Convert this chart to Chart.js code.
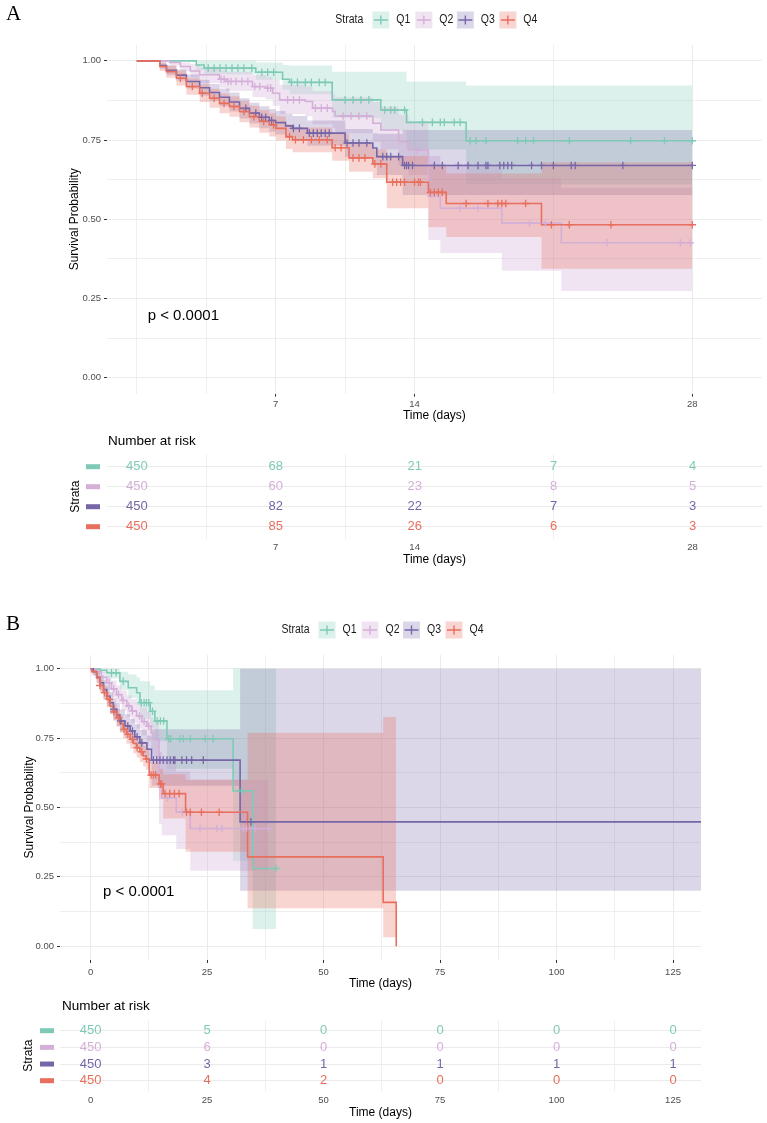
<!DOCTYPE html>
<html>
<head>
<meta charset="utf-8">
<title>Survival by quartile</title>
<script src="https://cdn.jsdelivr.net/npm/chart.js@4.4.1/dist/chart.umd.min.js"></script>
<style>
  html, body { margin: 0; padding: 0; background: #fff; }
  #page { position: relative; width: 767px; height: 1123px; overflow: hidden; background: #fff; }
  #page canvas { position: absolute; left: 0; }
  .tag { position: absolute; left: 6px; z-index: 2; font: 21px/1 "Liberation Serif", "DejaVu Serif", serif; color: #000; }
</style>
</head>
<body>
<div id="page">
  <canvas id="kmA" width="767" height="430" style="top:0"></canvas>
  <canvas id="riskA" width="767" height="140" style="top:430px"></canvas>
  <canvas id="kmB" width="767" height="390" style="top:610px"></canvas>
  <canvas id="riskB" width="767" height="128" style="top:995px"></canvas>
  <div class="tag" style="top:3px">A</div>
  <div class="tag" style="top:613px">B</div>
</div>
<script>
const groups = ['Q1', 'Q2', 'Q3', 'Q4'];
const colors = ['#7fcab6', '#d4afd8', '#7666a8', '#e86f5e'];
const bandAlpha = [0.27, 0.34, 0.26, 0.29];
const pvalText = 'p < 0.0001';

// panel A, first 28 days
const aTimesQ1 = [0, 3.0, 3.4, 6.0, 7.35, 7.7, 9.85, 12.3, 13.6, 16.6, 28];
const aSurvQ1 = [1, 0.987, 0.977, 0.964, 0.942, 0.932, 0.877, 0.845, 0.806, 0.748, 0.748];
const aUpperQ1 = [1, 1, 1, 0.995, 0.987, 0.985, 0.966, 0.966, 0.935, 0.922, 0.922];
const aLowerQ1 = [1, 0.97, 0.958, 0.94, 0.91, 0.895, 0.82, 0.78, 0.72, 0.61, 0.61];
const aCensorQ1 = [3.6, 3.9, 4.2, 4.5, 4.8, 5.1, 5.4, 5.8, 6.3, 6.6, 6.9, 7.8, 8.1, 8.5, 8.8, 9.2, 9.5, 10.5, 10.9, 11.3, 11.7, 12.5, 12.8, 13.0, 13.5, 14.4, 14.9, 15.3, 15.5, 16.0, 16.3, 16.8, 17.1, 17.6, 19.2, 19.6, 20.0, 21.8, 24.9, 26.6, 28];

const aTimesQ2 = [0, 1.66, 2.2, 2.7, 3.17, 4.17, 4.5, 5.83, 6.5, 6.85, 7.2, 8.5, 8.86, 9.87, 10.0, 11.9, 12.3, 13.2, 13.7, 14.7, 15.3, 18.4, 21.4, 28];
const aSurvQ2 = [1, 0.995, 0.982, 0.968, 0.956, 0.942, 0.935, 0.919, 0.914, 0.898, 0.877, 0.872, 0.851, 0.84, 0.826, 0.803, 0.782, 0.745, 0.719, 0.572, 0.535, 0.488, 0.426, 0.426];
const aUpperQ2 = [1, 1, 0.995, 0.99, 0.98, 0.97, 0.965, 0.955, 0.95, 0.94, 0.925, 0.92, 0.905, 0.895, 0.885, 0.87, 0.855, 0.83, 0.81, 0.7, 0.67, 0.63, 0.6, 0.6];
const aLowerQ2 = [1, 0.985, 0.968, 0.948, 0.93, 0.915, 0.905, 0.885, 0.878, 0.858, 0.832, 0.825, 0.8, 0.788, 0.772, 0.745, 0.72, 0.67, 0.64, 0.435, 0.394, 0.338, 0.274, 0.274];
const aCensorQ2 = [4.25, 4.4, 4.6, 4.75, 5.0, 5.3, 5.6, 5.95, 6.2, 6.6, 6.75, 7.6, 7.9, 8.2, 9.0, 9.3, 9.6, 10.4, 10.8, 11.2, 11.6, 14.1, 16.3, 17.2, 19.8, 20.6, 23.7, 27.4, 27.9];

const aTimesQ3 = [0, 1.16, 1.5, 2.0, 2.5, 3.17, 3.67, 4.17, 4.67, 5.18, 5.68, 6.18, 6.68, 7.0, 7.5, 7.85, 8.6, 10.5, 11.9, 12.1, 13.4, 28];
const aSurvQ3 = [1, 0.985, 0.97, 0.955, 0.935, 0.915, 0.9, 0.885, 0.87, 0.85, 0.835, 0.822, 0.812, 0.805, 0.795, 0.787, 0.772, 0.741, 0.725, 0.698, 0.67, 0.67];
const aUpperQ3 = [1, 0.995, 0.985, 0.973, 0.957, 0.94, 0.927, 0.913, 0.9, 0.882, 0.868, 0.857, 0.848, 0.842, 0.833, 0.826, 0.812, 0.785, 0.772, 0.77, 0.782, 0.782];
const aLowerQ3 = [1, 0.975, 0.955, 0.937, 0.913, 0.89, 0.873, 0.857, 0.84, 0.818, 0.802, 0.787, 0.776, 0.768, 0.757, 0.748, 0.732, 0.697, 0.678, 0.64, 0.577, 0.577];
const aCensorQ3 = [5.5, 6.0, 6.3, 6.5, 6.8, 7.9, 8.2, 8.7, 8.9, 9.1, 9.3, 9.5, 9.7, 10.6, 10.9, 11.2, 11.6, 12.4, 12.6, 12.8, 13.2, 13.5, 13.6, 13.7, 13.9, 15.0, 15.4, 16.2, 16.7, 17.2, 17.6, 17.7, 18.3, 18.5, 18.7, 18.9, 19.9, 20.4, 21.0, 21.9, 22.1, 24.5, 28];

const aTimesQ4 = [0, 1.16, 1.49, 2.0, 2.5, 3.17, 3.67, 4.17, 4.67, 5.18, 5.68, 6.18, 6.68, 7.02, 7.52, 7.85, 9.85, 10.7, 11.9, 12.6, 14.7, 15.6, 20.4, 28];
const aSurvQ4 = [1, 0.982, 0.966, 0.945, 0.919, 0.898, 0.882, 0.866, 0.856, 0.84, 0.824, 0.809, 0.798, 0.787, 0.761, 0.751, 0.726, 0.694, 0.675, 0.617, 0.585, 0.55, 0.483, 0.483];
const aUpperQ4 = [1, 0.995, 0.985, 0.968, 0.945, 0.926, 0.912, 0.897, 0.888, 0.873, 0.858, 0.845, 0.835, 0.825, 0.8, 0.79, 0.77, 0.74, 0.72, 0.7, 0.67, 0.645, 0.68, 0.68];
const aLowerQ4 = [1, 0.968, 0.947, 0.922, 0.893, 0.87, 0.852, 0.835, 0.824, 0.806, 0.79, 0.773, 0.761, 0.749, 0.722, 0.712, 0.685, 0.65, 0.63, 0.535, 0.475, 0.444, 0.344, 0.344];
const aCensorQ4 = [2.2, 2.8, 3.3, 3.9, 4.4, 4.9, 5.4, 5.9, 6.4, 6.9, 7.7, 8.0, 8.4, 8.8, 9.2, 9.6, 10.0, 10.3, 10.9, 11.2, 11.5, 12.0, 12.3, 12.9, 13.1, 13.3, 13.5, 14.0, 14.2, 14.3, 14.8, 15.0, 15.2, 15.4, 16.6, 17.7, 18.2, 18.4, 18.6, 19.6, 20.9, 21.8, 23.9, 28];

const aRiskTimes = [0, 7, 14, 21, 28];
const aRiskQ1 = [450, 68, 21, 7, 4];
const aRiskQ2 = [450, 60, 23, 8, 5];
const aRiskQ3 = [450, 82, 22, 7, 3];
const aRiskQ4 = [450, 85, 26, 6, 3];
const aTickLabels = [7, 14, 28];
const aGridX = [0, 3.5, 7, 10.5, 14, 21, 28];
const aRiskGridX = [3.5, 7, 10.5, 14, 21, 28];

// panel B, whole follow-up
const bTimesQ1 = [0, 2.0, 3.5, 6.3, 8.1, 9.9, 10.6, 12.8, 13.8, 16.4, 30.6, 34.8, 39.8];
const bSurvQ1 = [1, 0.995, 0.986, 0.955, 0.932, 0.914, 0.878, 0.847, 0.812, 0.748, 0.56, 0.28, 0.28];
const bUpperQ1 = [1, 1, 1, 0.99, 0.98, 0.97, 0.955, 0.94, 0.923, 0.923, 1, 1, 1];
const bLowerQ1 = [1, 0.985, 0.965, 0.925, 0.895, 0.87, 0.82, 0.785, 0.74, 0.64, 0.308, 0.062, 0.062];
const bCensorQ1 = [4.5, 5.5, 7.0, 10.9, 11.5, 12.0, 12.5, 13.3, 14.3, 15.0, 15.7, 16.8, 17.2, 19.2, 19.9, 21.4, 24.6, 26.3, 32.4, 39.8];

const bTimesQ2 = [0, 1.2, 2.3, 3.5, 4.5, 5.6, 6.7, 7.8, 8.8, 9.9, 11.0, 12.1, 13.0, 13.5, 14.7, 15.3, 18.4, 21.4, 38.2];
const bSurvQ2 = [1, 0.99, 0.97, 0.95, 0.928, 0.907, 0.886, 0.866, 0.848, 0.83, 0.81, 0.793, 0.768, 0.746, 0.572, 0.535, 0.484, 0.424, 0.424];
const bUpperQ2 = [1, 1, 0.99, 0.975, 0.958, 0.94, 0.922, 0.905, 0.89, 0.875, 0.86, 0.845, 0.825, 0.81, 0.7, 0.67, 0.63, 0.6, 0.6];
const bLowerQ2 = [1, 0.98, 0.95, 0.925, 0.898, 0.873, 0.85, 0.827, 0.806, 0.785, 0.76, 0.74, 0.71, 0.68, 0.44, 0.4, 0.35, 0.272, 0.272];
const bCensorQ2 = [4.0, 5.0, 6.0, 7.0, 8.2, 9.0, 10.5, 11.5, 12.5, 16.5, 19.7, 23.5, 27.1, 28.2, 32.8, 33.5, 35.3, 38.2];

const bTimesQ3 = [0, 0.6, 1.3, 2.0, 2.8, 3.5, 4.2, 4.9, 5.6, 6.3, 7.4, 8.5, 9.5, 10.6, 12.1, 13.1, 32.1, 131];
const bSurvQ3 = [1, 0.99, 0.97, 0.95, 0.925, 0.901, 0.878, 0.854, 0.833, 0.812, 0.794, 0.776, 0.755, 0.733, 0.71, 0.671, 0.448, 0.448];
const bUpperQ3 = [1, 1, 0.99, 0.978, 0.958, 0.937, 0.916, 0.894, 0.874, 0.853, 0.836, 0.819, 0.8, 0.78, 0.76, 0.782, 1, 1];
const bLowerQ3 = [1, 0.975, 0.95, 0.922, 0.892, 0.865, 0.84, 0.814, 0.792, 0.771, 0.752, 0.733, 0.71, 0.686, 0.66, 0.578, 0.2, 0.2];
const bCensorQ3 = [5.0, 6.5, 8.0, 9.0, 10.0, 11.0, 13.5, 14.2, 14.9, 15.6, 16.4, 17.1, 17.8, 18.1, 19.6, 20.6, 21.7, 24.2, 34.4];

const bTimesQ4 = [0, 0.25, 1.33, 2.0, 2.75, 3.5, 4.18, 4.9, 5.6, 6.3, 7.0, 7.7, 8.5, 9.2, 9.9, 10.6, 11.3, 11.9, 12.6, 14.7, 15.6, 20.4, 33.7, 62.8, 65.6];
const bSurvQ4 = [1, 0.99, 0.967, 0.94, 0.914, 0.89, 0.866, 0.845, 0.824, 0.803, 0.782, 0.764, 0.746, 0.731, 0.716, 0.701, 0.686, 0.675, 0.617, 0.585, 0.55, 0.483, 0.322, 0.158, 0];
const bUpperQ4 = [1, 1, 0.985, 0.962, 0.94, 0.917, 0.895, 0.875, 0.855, 0.835, 0.815, 0.798, 0.78, 0.766, 0.752, 0.738, 0.724, 0.714, 0.665, 0.64, 0.62, 0.6, 0.77, 0.826, 0.826];
const bLowerQ4 = [1, 0.978, 0.948, 0.917, 0.888, 0.862, 0.836, 0.815, 0.793, 0.771, 0.749, 0.73, 0.712, 0.696, 0.68, 0.664, 0.648, 0.636, 0.57, 0.53, 0.46, 0.34, 0.137, 0.032, 0.032];
const bCensorQ4 = [2.0, 3.0, 4.0, 5.0, 6.0, 7.2, 8.0, 9.0, 10.0, 11.0, 12.0, 13.0, 13.5, 14.0, 15.0, 15.3, 16.0, 17.0, 18.0, 19.0, 20.6, 21.4, 23.8, 27.6];

const bRiskTimes = [0, 25, 50, 75, 100, 125];
const bRiskQ1 = [450, 5, 0, 0, 0, 0];
const bRiskQ2 = [450, 6, 0, 0, 0, 0];
const bRiskQ3 = [450, 3, 1, 1, 1, 1];
const bRiskQ4 = [450, 4, 2, 0, 0, 0];
const bTickLabels = [0, 25, 50, 75, 100, 125];
const bGridX = [0, 12.5, 25, 37.5, 50, 62.5, 75, 87.5, 100, 112.5, 125];

const yTicks = [0, 0.125, 0.25, 0.375, 0.5, 0.625, 0.75, 0.875, 1];
const yLabelled = [0, 0.25, 0.5, 0.75, 1];

const sans = '"Liberation Sans", Arial, sans-serif';
const clear = 'rgba(0,0,0,0)';

function rgba(hex, a) {
  const n = parseInt(hex.slice(1), 16);
  return 'rgba(' + (n >> 16) + ',' + ((n >> 8) & 255) + ',' + (n & 255) + ',' + a + ')';
}
function pts(xs, ys) { return xs.map((x, i) => ({ x: x, y: ys[i] })); }
// KM estimate at time t (step function)
function survAt(times, surv, t) {
  let s = surv[0];
  times.forEach((u, i) => { if (u <= t) s = surv[i]; });
  return s;
}
// the original uses a narrow sans, so squeeze the text a little
function narrowText(ctx, text, x, y) {
  ctx.save();
  ctx.translate(x, y);
  ctx.scale(0.84, 1);
  ctx.fillText(text, 0, 0);
  ctx.restore();
}

function drawLegend(ctx, cx, y) {
  const keys = [-62, -19, 22.5, 65];
  ctx.font = '12.5px ' + sans;
  ctx.textBaseline = 'middle';
  ctx.textAlign = 'left';
  ctx.fillStyle = '#1a1a1a';
  narrowText(ctx, 'Strata', cx - 99, y);
  keys.forEach((dx, g) => {
    const kx = cx + dx;
    ctx.fillStyle = rgba(colors[g], bandAlpha[g]);
    ctx.fillRect(kx, y - 8.5, 17, 17);
    ctx.strokeStyle = colors[g];
    ctx.lineWidth = 1.4;
    ctx.beginPath();
    ctx.moveTo(kx + 1.5, y); ctx.lineTo(kx + 15.5, y);
    ctx.moveTo(kx + 8.5, y - 4.5); ctx.lineTo(kx + 8.5, y + 4.5);
    ctx.stroke();
    ctx.fillStyle = '#1a1a1a';
    narrowText(ctx, groups[g], kx + 24, y);
  });
}

const decor = {
  id: 'decor',
  afterDatasetsDraw(chart, args, o) {
    const ctx = chart.ctx, area = chart.chartArea;
    ctx.save();
    if (o.legendY) drawLegend(ctx, (area.left + area.right) / 2, o.legendY);
    if (o.pval) {
      ctx.font = '15px ' + sans;
      ctx.fillStyle = '#000';
      ctx.textAlign = 'left';
      ctx.textBaseline = 'middle';
      ctx.fillText(pvalText, chart.scales.x.getPixelForValue(o.pval.x), chart.scales.y.getPixelForValue(o.pval.y));
    }
    if (o.table) {
      ctx.font = '13px ' + sans;
      ctx.textAlign = 'center';
      ctx.textBaseline = 'middle';
      chart.data.datasets.forEach((ds, g) => {
        ctx.fillStyle = colors[g];
        chart.getDatasetMeta(g).data.forEach((el, j) => ctx.fillText(String(ds.counts[j]), el.x, el.y));
        ctx.fillRect(o.table.swatchX, chart.scales.y.getPixelForValue(g + 1) - 2.5, 14, 5);
      });
      ctx.fillStyle = '#000';
      ctx.font = '13.5px ' + sans;
      ctx.textAlign = 'left';
      ctx.fillText('Number at risk', o.table.titleX, o.table.titleY);
    }
    ctx.restore();
  }
};

function xAxis(p) {
  const labelled = c => c.tick && p.labels.indexOf(c.tick.value) >= 0;
  return {
    type: 'linear', min: p.min, max: p.max,
    afterBuildTicks: s => { s.ticks = p.grid.map(v => ({ value: v })); },
    afterFit: s => { s.height = p.height; s.paddingLeft = 0; s.paddingRight = 0; },
    ticks: {
      autoSkip: false, maxRotation: 0, padding: p.tickPad, color: '#4d4d4d',
      font: { family: sans, size: 9.5 },
      callback: v => p.labels.indexOf(v) >= 0 ? String(v) : ''
    },
    grid: {
      color: c => (p.table && labelled(c)) ? clear : '#ebebeb',
      lineWidth: c => labelled(c) ? 1 : 0.8,
      drawTicks: !p.table, tickLength: 3,
      tickColor: c => labelled(c) ? '#333333' : clear
    },
    border: { display: false },
    title: { display: true, text: 'Time (days)', color: '#000', font: { family: sans, size: 12 }, padding: { top: 0, bottom: p.titlePad } }
  };
}

function kmYAxis(p) {
  const labelled = c => c.tick && yLabelled.indexOf(c.tick.value) >= 0;
  return {
    type: 'linear', min: -0.05, max: 1.05,
    afterBuildTicks: s => { s.ticks = yTicks.map(v => ({ value: v })); },
    afterFit: s => { s.width = p.width; s.paddingTop = 0; s.paddingBottom = 0; },
    ticks: {
      padding: 3, color: '#4d4d4d', font: { family: sans, size: 9.5 },
      callback: v => yLabelled.indexOf(v) >= 0 ? v.toFixed(2) : ''
    },
    grid: {
      color: '#ebebeb', lineWidth: c => labelled(c) ? 1 : 0.8,
      tickLength: 3, tickColor: c => labelled(c) ? '#333333' : clear
    },
    border: { display: false },
    title: { display: true, text: 'Survival Probability', color: '#000', font: { family: sans, size: 12 }, padding: { top: p.titlePad, bottom: 0 } }
  };
}

function riskYAxis(p) {
  return {
    type: 'linear', min: 0.4, max: 4.6, reverse: true,
    afterBuildTicks: s => { s.ticks = [1, 2, 3, 4].map(v => ({ value: v })); },
    afterFit: s => { s.width = p.width; s.paddingTop = 0; s.paddingBottom = 0; },
    ticks: { display: false },
    grid: { color: '#ebebeb', lineWidth: 1, drawTicks: false },
    border: { display: false },
    title: { display: true, text: 'Strata', color: '#000', font: { family: sans, size: 12 }, padding: { top: p.titlePad, bottom: 0 } }
  };
}

function kmChart(id, curves, p) {
  const sets = [];
  curves.forEach((c, g) => {
    sets.push({ data: pts(c.times, c.upper), stepped: true, borderColor: clear, borderWidth: 0, pointRadius: 0, fill: false, order: 40 - g });
    sets.push({ data: pts(c.times, c.lower), stepped: true, borderColor: clear, borderWidth: 0, pointRadius: 0, fill: '-1', backgroundColor: rgba(colors[g], bandAlpha[g]), order: 40 - g });
  });
  curves.forEach((c, g) => {
    sets.push({ data: pts(c.times, c.surv), stepped: true, borderColor: colors[g], borderWidth: 1.6, pointRadius: 0, fill: false, order: 20 - g });
  });
  curves.forEach((c, g) => {
    sets.push({
      data: c.censor.map(t => ({ x: t, y: survAt(c.times, c.surv, t) })),
      showLine: false, pointStyle: 'cross', pointRadius: 3.8, pointBorderWidth: 1.3,
      borderColor: colors[g], backgroundColor: colors[g], order: 10 - g
    });
  });
  return new Chart(document.getElementById(id), {
    type: 'line',
    data: { datasets: sets },
    options: {
      responsive: false, animation: false, devicePixelRatio: 1, events: [],
      layout: { padding: { left: 0, right: p.right, top: p.top, bottom: 0 } },
      plugins: { legend: { display: false }, tooltip: { enabled: false }, decor: { legendY: 20, pval: p.pval } },
      scales: { x: xAxis(p.x), y: kmYAxis(p.y) }
    },
    plugins: [decor]
  });
}

function riskChart(id, counts, times, p) {
  const sets = counts.map((row, g) => ({
    data: times.map(t => ({ x: t, y: g + 1 })), counts: row, showLine: false, pointRadius: 0
  }));
  return new Chart(document.getElementById(id), {
    type: 'line',
    data: { datasets: sets },
    options: {
      responsive: false, animation: false, devicePixelRatio: 1, events: [],
      layout: { padding: { left: 0, right: p.right, top: p.top, bottom: 0 } },
      plugins: { legend: { display: false }, tooltip: { enabled: false }, decor: { table: p.table } },
      scales: { x: xAxis(p.x), y: riskYAxis(p.y) }
    },
    plugins: [decor]
  });
}

kmChart('kmA', [
  { times: aTimesQ1, surv: aSurvQ1, upper: aUpperQ1, lower: aLowerQ1, censor: aCensorQ1 },
  { times: aTimesQ2, surv: aSurvQ2, upper: aUpperQ2, lower: aLowerQ2, censor: aCensorQ2 },
  { times: aTimesQ3, surv: aSurvQ3, upper: aUpperQ3, lower: aLowerQ3, censor: aCensorQ3 },
  { times: aTimesQ4, surv: aSurvQ4, upper: aUpperQ4, lower: aLowerQ4, censor: aCensorQ4 }
], {
  right: 5, top: 45, pval: { x: 0.55, y: 0.195 },
  x: { min: -1.5, max: 31.5, grid: aGridX, labels: aTickLabels, height: 36.3, tickPad: 2, titlePad: 6.8 },
  y: { width: 107, titlePad: 67.8 }
});

riskChart('riskA', [aRiskQ1, aRiskQ2, aRiskQ3, aRiskQ4], aRiskTimes, {
  right: 5, top: 24.7, table: { swatchX: 86, titleX: 108, titleY: 11.7 },
  x: { min: -1.5, max: 31.5, grid: aRiskGridX, labels: aTickLabels, height: 31.3, tickPad: 3, titlePad: 2.8, table: true },
  y: { width: 107, titlePad: 68.8 }
});

kmChart('kmB', [
  { times: bTimesQ1, surv: bSurvQ1, upper: bUpperQ1, lower: bLowerQ1, censor: bCensorQ1 },
  { times: bTimesQ2, surv: bSurvQ2, upper: bUpperQ2, lower: bLowerQ2, censor: bCensorQ2 },
  { times: bTimesQ3, surv: bSurvQ3, upper: bUpperQ3, lower: bLowerQ3, censor: bCensorQ3 },
  { times: bTimesQ4, surv: bSurvQ4, upper: bUpperQ4, lower: bLowerQ4, censor: bCensorQ4 }
], {
  right: 66, top: 45, pval: { x: 2.7, y: 0.195 },
  x: { min: -6.55, max: 131, grid: bGridX, labels: bTickLabels, height: 40, tickPad: 3.7, titlePad: 8.8 },
  y: { width: 60, titlePad: 22.8 }
});

riskChart('riskB', [bRiskQ1, bRiskQ2, bRiskQ3, bRiskQ4], bRiskTimes, {
  right: 66, top: 25.7, table: { swatchX: 40, titleX: 62, titleY: 11.7 },
  x: { min: -6.55, max: 131, grid: bGridX, labels: bTickLabels, height: 32.3, tickPad: 4.3, titlePad: 2.8, table: true },
  y: { width: 60, titlePad: 21.8 }
});
</script>
</body>
</html>
